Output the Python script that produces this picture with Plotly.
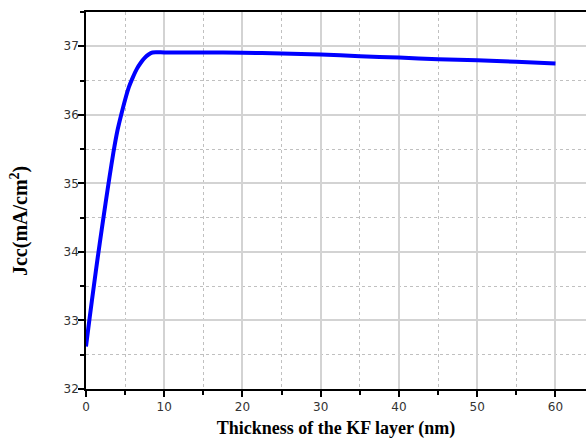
import plotly.graph_objects as go

thickness = [0, 0.5, 1, 1.5, 2, 2.5, 3, 3.5, 4, 4.5, 5, 5.5, 6, 6.5, 7, 7.5, 8, 8.5,
             10, 15, 20, 25, 30, 35, 40, 45, 50, 55, 60]
jsc = [32.62, 33.07, 33.5, 33.92, 34.32, 34.71, 35.09, 35.45, 35.76, 36.0, 36.22, 36.41,
       36.55, 36.67, 36.76, 36.83, 36.88, 36.91,
       36.91, 36.91, 36.905, 36.895, 36.88, 36.855, 36.835, 36.81, 36.795, 36.775, 36.75]

x_ticks = [0, 10, 20, 30, 40, 50, 60]
y_ticks = [32, 33, 34, 35, 36, 37]

fig = go.Figure()
fig.add_trace(go.Scatter(x=thickness, y=jsc, mode="lines",
                         line=dict(color="#0000ff", width=4, shape="spline", smoothing=0.6),
                         showlegend=False))

tickfont = dict(family="DejaVu Sans", size=12, color="#333333")
titlefont = dict(family="Liberation Serif", size=18, color="black")

fig.update_layout(
    width=586, height=445,
    margin=dict(l=86, r=0, t=12, b=56),
    paper_bgcolor="white", plot_bgcolor="white",
    xaxis=dict(
        range=[0, 63.9], tickvals=x_ticks, ticktext=[str(v) for v in x_ticks],
        showline=True, linecolor="black", linewidth=1.5, mirror=True,
        ticks="outside", ticklen=6, tickcolor="black", tickwidth=1.5,
        showgrid=True, gridcolor="#d3d3d3", gridwidth=1.5,
        minor=dict(dtick=5, tick0=0, ticks="outside", ticklen=4, tickcolor="black",
                   showgrid=True, gridcolor="#c0c0c0", griddash="dot", gridwidth=1),
        zeroline=False, tickfont=tickfont, automargin=False,
        title=dict(text="<b>Thickness of the KF layer (nm)</b>", font=titlefont, standoff=8),
    ),
    yaxis=dict(
        range=[32, 37.5], tickvals=y_ticks, ticktext=[str(v) for v in y_ticks],
        showline=True, linecolor="black", linewidth=1.5,
        ticks="outside", ticklen=6, tickcolor="black", tickwidth=1.5,
        showgrid=True, gridcolor="#d3d3d3", gridwidth=1.5,
        minor=dict(dtick=0.5, tick0=32, ticks="outside", ticklen=4, tickcolor="black",
                   showgrid=True, gridcolor="#c0c0c0", griddash="dot", gridwidth=1),
        zeroline=False, tickfont=tickfont, automargin=False, ticklabelstandoff=-3,
    ),
    annotations=[dict(
        text="<b>Jcc(mA/cm<sup>2</sup>)</b>", textangle=-90,
        xref="paper", yref="paper", x=-0.134, y=0.4456,
        xanchor="center", yanchor="middle", showarrow=False,
        font=dict(family="Liberation Serif", size=20, color="black"),
    )],
)

fig.write_html(
    "out.html",
    config={"displayModeBar": False},
    post_script="document.body.style.margin='0';document.body.style.overflow='hidden';",
)
